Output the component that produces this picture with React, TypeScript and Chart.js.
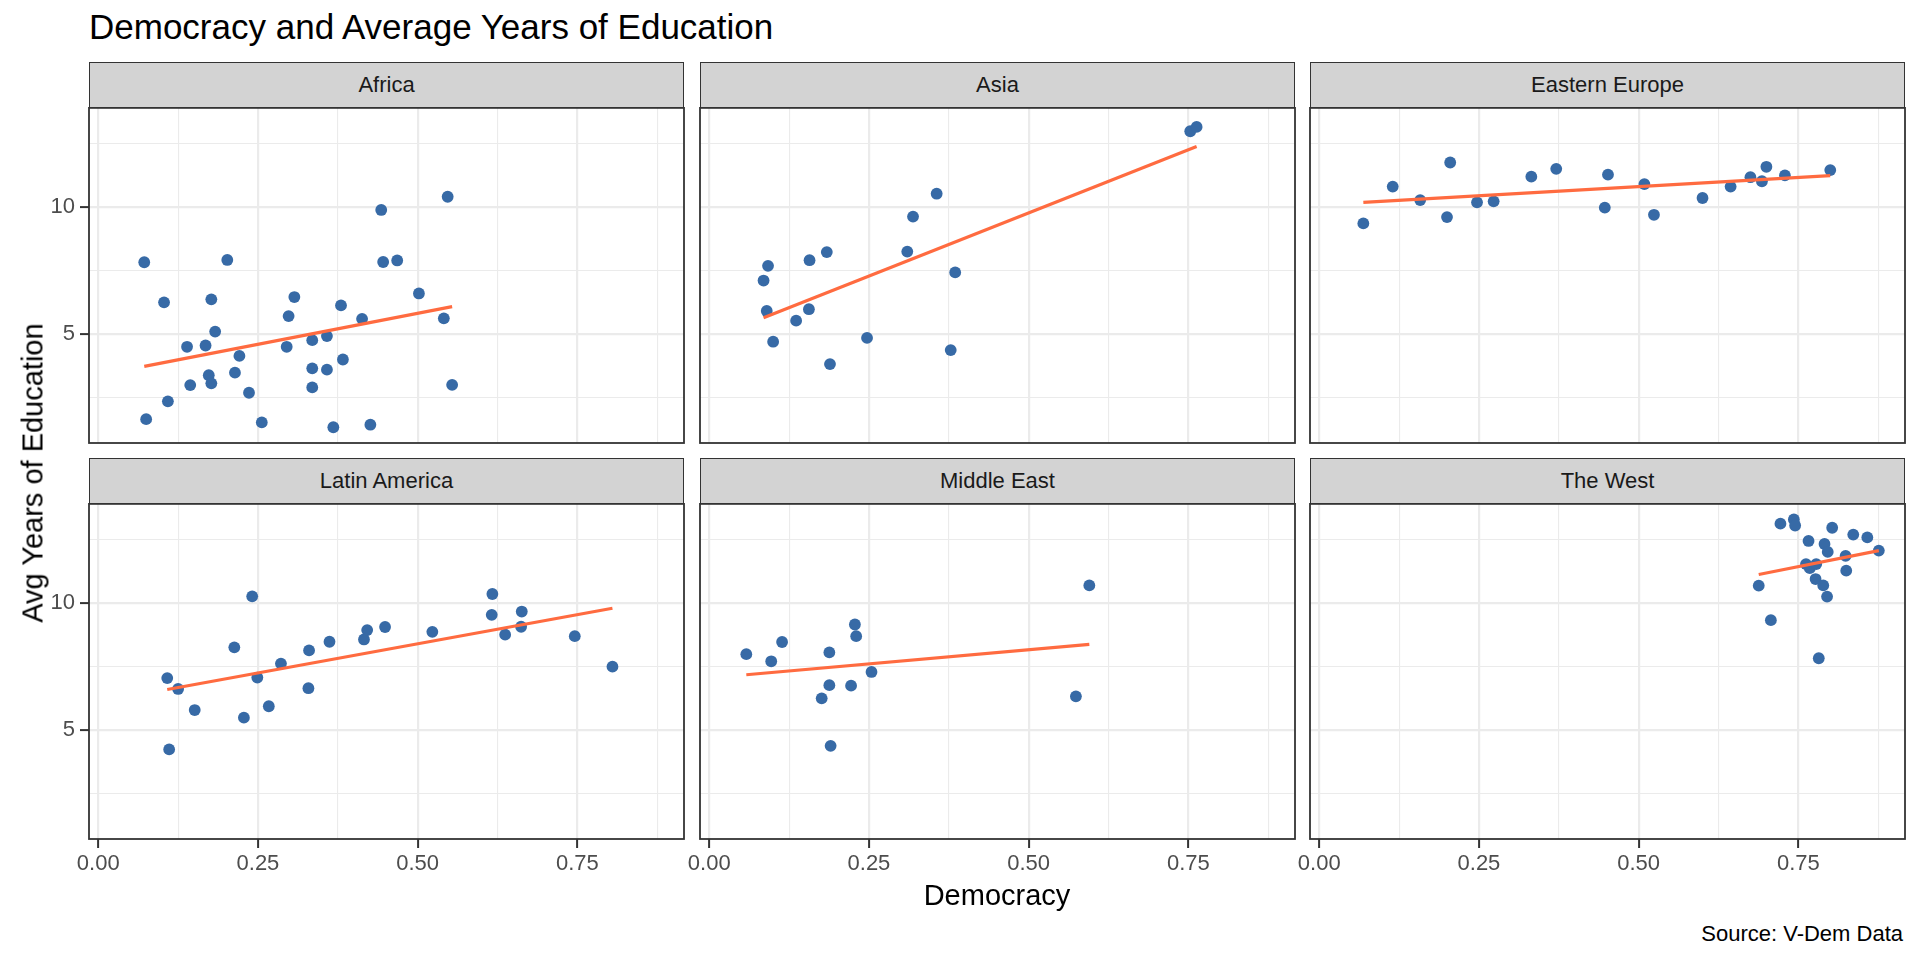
import React, { useEffect, useRef } from 'react';
import { Chart, registerables } from 'chart.js';

Chart.register(...registerables);

// ---------------- data ----------------
const regions = ['Africa', 'Asia', 'Eastern Europe', 'Latin America', 'Middle East', 'The West'];

const africaDemocracy = [0.072, 0.103, 0.075, 0.109, 0.139, 0.144, 0.168, 0.173, 0.177, 0.177, 0.183, 0.202, 0.214, 0.221, 0.236, 0.256, 0.295, 0.298, 0.307, 0.335, 0.335, 0.335, 0.358, 0.358, 0.368, 0.380, 0.383, 0.413, 0.426, 0.443, 0.446, 0.468, 0.502, 0.541, 0.547, 0.554];
const africaEducation = [7.82, 6.24, 1.64, 2.34, 4.49, 2.98, 4.54, 3.37, 3.05, 6.36, 5.09, 7.91, 3.47, 4.13, 2.68, 1.51, 4.49, 5.70, 6.45, 4.75, 3.64, 2.89, 4.91, 3.59, 1.32, 6.12, 3.99, 5.59, 1.42, 9.88, 7.83, 7.89, 6.59, 5.61, 10.40, 2.99];

const asiaDemocracy = [0.085, 0.092, 0.090, 0.100, 0.136, 0.156, 0.157, 0.184, 0.189, 0.247, 0.310, 0.319, 0.356, 0.378, 0.385, 0.753, 0.763];
const asiaEducation = [7.10, 7.68, 5.90, 4.69, 5.52, 5.97, 7.90, 8.22, 3.81, 4.84, 8.24, 9.62, 10.52, 4.36, 7.42, 12.98, 13.15];

const easternEuropeDemocracy = [0.069, 0.115, 0.158, 0.200, 0.205, 0.247, 0.273, 0.332, 0.371, 0.447, 0.452, 0.509, 0.524, 0.600, 0.644, 0.675, 0.693, 0.700, 0.729, 0.800];
const easternEuropeEducation = [9.35, 10.80, 10.27, 9.60, 11.75, 10.18, 10.22, 11.19, 11.50, 9.97, 11.27, 10.90, 9.69, 10.35, 10.80, 11.17, 11.01, 11.58, 11.24, 11.45];

const latinAmericaDemocracy = [0.108, 0.125, 0.111, 0.151, 0.213, 0.228, 0.241, 0.249, 0.267, 0.286, 0.329, 0.330, 0.362, 0.416, 0.421, 0.449, 0.523, 0.616, 0.617, 0.637, 0.663, 0.662, 0.746, 0.805];
const latinAmericaEducation = [7.04, 6.61, 4.23, 5.78, 8.25, 5.48, 10.26, 7.06, 5.93, 7.61, 6.64, 8.13, 8.47, 8.56, 8.93, 9.05, 8.86, 9.53, 10.35, 8.75, 9.66, 9.06, 8.69, 7.49];

const middleEastDemocracy = [0.058, 0.097, 0.114, 0.176, 0.188, 0.188, 0.190, 0.222, 0.228, 0.230, 0.254, 0.574, 0.595];
const middleEastEducation = [7.98, 7.70, 8.46, 6.24, 8.05, 6.76, 4.37, 6.74, 9.15, 8.69, 7.28, 6.32, 10.69];

const theWestDemocracy = [0.688, 0.707, 0.722, 0.743, 0.745, 0.766, 0.762, 0.768, 0.778, 0.777, 0.789, 0.795, 0.782, 0.791, 0.796, 0.803, 0.824, 0.825, 0.836, 0.858, 0.876];
const theWestEducation = [10.68, 9.32, 13.12, 13.29, 13.05, 12.44, 11.53, 11.37, 11.53, 10.94, 10.69, 10.25, 7.82, 12.32, 12.01, 12.96, 11.85, 11.27, 12.69, 12.58, 12.06];

// linear-fit line end points (per region)
const trendStartX = [0.072, 0.085, 0.069, 0.108, 0.058, 0.688];
const trendStartY = [3.72, 5.63, 10.18, 6.59, 7.17, 11.12];
const trendEndX = [0.554, 0.763, 0.800, 0.805, 0.595, 0.876];
const trendEndY = [6.07, 12.38, 11.23, 9.79, 8.37, 12.06];

const xTickValues = [0, 0.25, 0.5, 0.75];
const xTickLabels = ['0.00', '0.25', '0.50', '0.75'];
const xMinorValues = [0.125, 0.375, 0.625, 0.875];
const yTickValues = [5, 10];
const yTickLabels = ['5', '10'];
const yMinorValues = [2.5, 7.5, 12.5];

const democracyByRegion = [africaDemocracy, asiaDemocracy, easternEuropeDemocracy, latinAmericaDemocracy, middleEastDemocracy, theWestDemocracy];
const educationByRegion = [africaEducation, asiaEducation, easternEuropeEducation, latinAmericaEducation, middleEastEducation, theWestEducation];

// ---------------- layout / style ----------------
const FONT = "'Liberation Sans', Arial, Helvetica, sans-serif";
const X_MIN = -0.0145;
const X_MAX = 0.917;
const Y_MIN = 0.70;
const Y_MAX = 13.90;
const PLOT_LEFTS = [89, 700, 1310];
const PLOT_TOPS = [107, 503];
const PLOT_W = 595;
const PLOT_H = 336;
const STRIP_H = 45;
const AXIS_W = 70;
const AXIS_H = 60;
const PAD_TOP = 5;
const PAD_RIGHT = 10;
const POINT_COLOR = '#376AA6';
const LINE_COLOR = '#FF6B40';
const GRID_COLOR = '#EBEBEB';
const DARK = '#333333';
const TICK_TEXT = '#4D4D4D';

const near = (a: number, list: number[]) => list.findIndex((v) => Math.abs(v - a) < 1e-9);

const borderPlugin = {
  id: 'panelBorder',
  afterDraw(chart: any) {
    const { ctx, chartArea } = chart;
    ctx.save();
    ctx.strokeStyle = DARK;
    ctx.lineWidth = 1.8;
    ctx.strokeRect(chartArea.left, chartArea.top, chartArea.right - chartArea.left, chartArea.bottom - chartArea.top);
    ctx.restore();
  },
};

function Panel({ idx }: { idx: number }) {
  const ref = useRef<HTMLCanvasElement>(null);
  const row = Math.floor(idx / 3);
  const col = idx % 3;
  const showY = col === 0;
  const showX = row === 1;

  useEffect(() => {
    if (!ref.current) return;
    const xs = democracyByRegion[idx];
    const ys = educationByRegion[idx];
    const zeroPad = (s: any) => {
      s.paddingLeft = 0;
      s.paddingRight = 0;
      s.paddingTop = 0;
      s.paddingBottom = 0;
    };
    const chart = new Chart(ref.current, {
      type: 'scatter',
      data: {
        datasets: [
          {
            data: [
              { x: trendStartX[idx], y: trendStartY[idx] },
              { x: trendEndX[idx], y: trendEndY[idx] },
            ],
            showLine: true,
            borderColor: LINE_COLOR,
            borderWidth: 3.2,
            pointRadius: 0,
            pointHoverRadius: 0,
            fill: false,
          } as any,
          {
            data: xs.map((x, i) => ({ x, y: ys[i] })),
            backgroundColor: POINT_COLOR,
            pointRadius: 5.9,
            pointBorderWidth: 0,
            borderWidth: 0,
          } as any,
        ],
      },
      options: {
        responsive: false,
        animation: false,
        events: [],
        layout: { padding: { top: PAD_TOP, right: PAD_RIGHT, left: 0, bottom: 0 } },
        plugins: { legend: { display: false }, tooltip: { enabled: false }, title: { display: false } },
        scales: {
          x: {
            type: 'linear',
            min: X_MIN,
            max: X_MAX,
            afterBuildTicks: (s: any) => {
              s.ticks = [...xTickValues, ...xMinorValues].sort((a, b) => a - b).map((v) => ({ value: v }));
            },
            afterFit: (s: any) => {
              s.height = AXIS_H;
              zeroPad(s);
            },
            ticks: {
              display: showX,
              autoSkip: false,
              maxRotation: 0,
              minRotation: 0,
              padding: 3,
              color: TICK_TEXT,
              font: { family: FONT, size: 22 },
              callback: (v: any) => {
                const i = near(Number(v), xTickValues);
                return i >= 0 ? xTickLabels[i] : '';
              },
            },
            grid: {
              color: GRID_COLOR,
              lineWidth: (c: any) => (c.tick && near(c.tick.value, xTickValues) >= 0 ? 2.2 : 1.1),
              drawTicks: showX,
              tickLength: 9,
              tickWidth: 2,
              tickColor: (c: any) => (c.tick && near(c.tick.value, xTickValues) >= 0 ? DARK : 'rgba(0,0,0,0)'),
            },
            border: { display: false },
          },
          y: {
            type: 'linear',
            min: Y_MIN,
            max: Y_MAX,
            afterBuildTicks: (s: any) => {
              s.ticks = [...yTickValues, ...yMinorValues].sort((a, b) => a - b).map((v) => ({ value: v }));
            },
            afterFit: (s: any) => {
              s.width = AXIS_W;
              zeroPad(s);
            },
            ticks: {
              display: showY,
              autoSkip: false,
              padding: 5,
              color: TICK_TEXT,
              font: { family: FONT, size: 22 },
              callback: (v: any) => {
                const i = near(Number(v), yTickValues);
                return i >= 0 ? yTickLabels[i] : '';
              },
            },
            grid: {
              color: GRID_COLOR,
              lineWidth: (c: any) => (c.tick && near(c.tick.value, yTickValues) >= 0 ? 2.2 : 1.1),
              drawTicks: showY,
              tickLength: 9,
              tickWidth: 2,
              tickColor: (c: any) => (c.tick && near(c.tick.value, yTickValues) >= 0 ? DARK : 'rgba(0,0,0,0)'),
            },
            border: { display: false },
          },
        },
      } as any,
      plugins: [borderPlugin],
    });
    return () => chart.destroy();
  }, [idx]);

  const plotLeft = PLOT_LEFTS[col];
  const plotTop = PLOT_TOPS[row];
  return (
    <>
      <div
        style={{
          position: 'absolute',
          left: plotLeft,
          top: plotTop - STRIP_H,
          width: PLOT_W,
          height: STRIP_H + 1,
          boxSizing: 'border-box',
          border: `1.8px solid ${DARK}`,
          background: '#D3D3D3',
          display: 'flex',
          alignItems: 'center',
          justifyContent: 'center',
          fontFamily: FONT,
          fontSize: 22,
          color: '#1A1A1A',
        }}
      >
        {regions[idx]}
      </div>
      <canvas
        ref={ref}
        width={AXIS_W + PLOT_W + PAD_RIGHT}
        height={PAD_TOP + PLOT_H + AXIS_H}
        style={{
          position: 'absolute',
          left: plotLeft - AXIS_W,
          top: plotTop - PAD_TOP,
          width: AXIS_W + PLOT_W + PAD_RIGHT,
          height: PAD_TOP + PLOT_H + AXIS_H,
        }}
      />
    </>
  );
}

export default function App() {
  return (
    <div
      style={{
        position: 'fixed',
        left: 0,
        top: 0,
        width: 1920,
        height: 960,
        background: '#FFFFFF',
        overflow: 'hidden',
        fontFamily: FONT,
      }}
    >
      <div
        style={{
          position: 'absolute',
          left: 89,
          top: 9,
          fontSize: 35,
          lineHeight: '35px',
          color: '#000000',
          whiteSpace: 'nowrap',
        }}
      >
        Democracy and Average Years of Education
      </div>
      {regions.map((_, i) => (
        <Panel key={i} idx={i} />
      ))}
      <div
        style={{
          position: 'absolute',
          left: 997,
          top: 895,
          transform: 'translate(-50%, -50%)',
          fontSize: 29,
          lineHeight: '29px',
          color: '#000000',
          whiteSpace: 'nowrap',
        }}
      >
        Democracy
      </div>
      <div
        style={{
          position: 'absolute',
          left: 33,
          top: 473,
          transform: 'translate(-50%, -50%) rotate(-90deg)',
          fontSize: 29,
          lineHeight: '29px',
          color: '#000000',
          whiteSpace: 'nowrap',
        }}
      >
        Avg Years of Education
      </div>
      <div
        style={{
          position: 'absolute',
          right: 17,
          top: 923,
          fontSize: 22,
          lineHeight: '22px',
          color: '#000000',
          whiteSpace: 'nowrap',
        }}
      >
        Source: V-Dem Data
      </div>
    </div>
  );
}
